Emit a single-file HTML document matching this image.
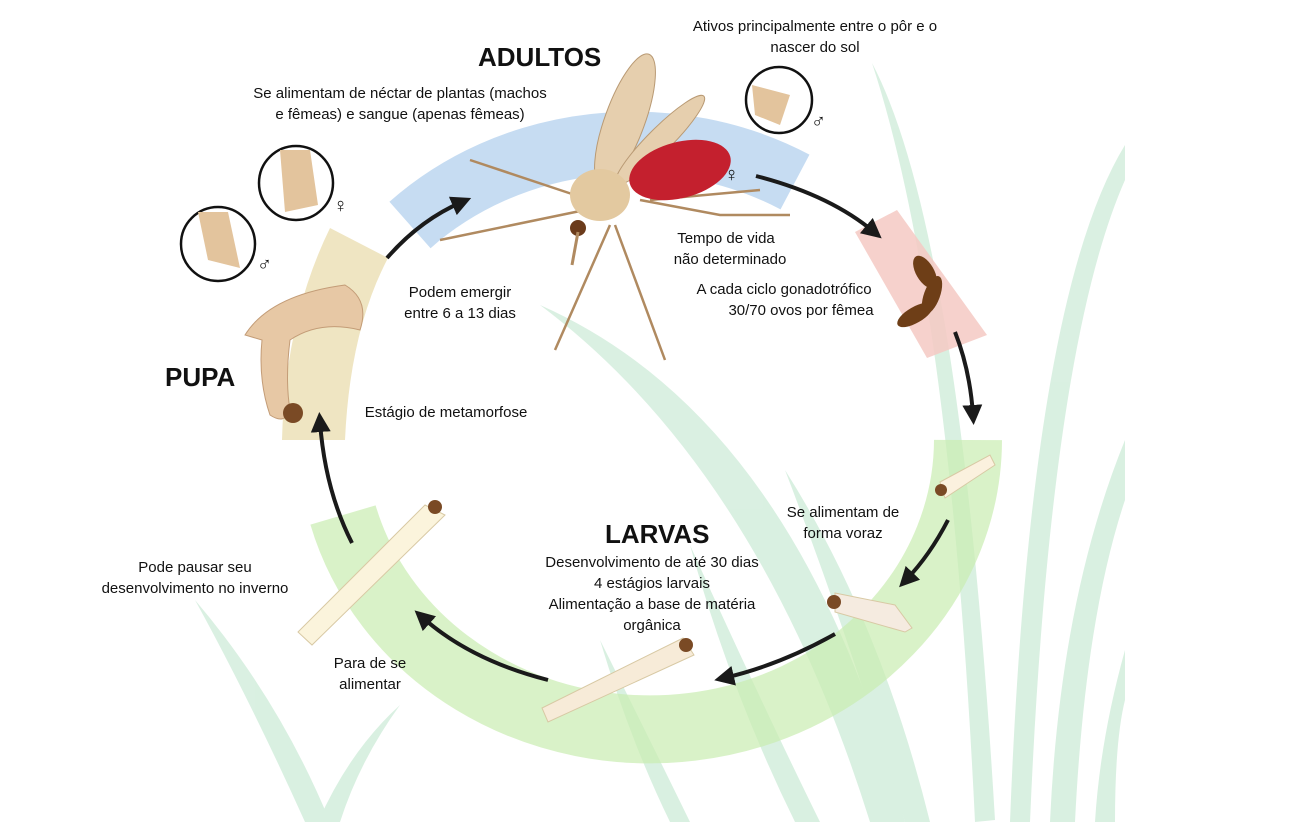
<!DOCTYPE html>
<html><head><meta charset="utf-8"><style>
html,body{margin:0;padding:0;background:#fff;}
svg{display:block}
text{font-family:"Liberation Sans",sans-serif;font-size:15px;fill:#111}
.b{font-weight:bold;font-size:26px}
</style></head><body>
<svg width="1314" height="827" viewBox="0 0 1314 827" xmlns="http://www.w3.org/2000/svg">
<defs><clipPath id="c"><rect x="0" y="0" width="1125" height="822"/></clipPath>
<marker id="a" viewBox="0 0 10 10" refX="5" refY="5" markerWidth="5" markerHeight="5" orient="auto"><path d="M0,0 L10,5 L0,10 z" fill="#1a1a1a"/></marker></defs>
<g clip-path="url(#c)" fill="#cdebd8" opacity="0.75">
<path d="M872,63 Q960,230 995,820 L975,822 Q950,300 872,63z"/>
<path d="M1125,145 Q1030,300 1010,822 L1030,822 Q1050,350 1125,180z"/>
<path d="M540,305 Q800,420 905,822 L870,822 Q760,470 540,305z"/>
<path d="M1125,440 Q1060,600 1050,822 L1075,822 Q1085,620 1125,500z"/>
<path d="M785,470 Q880,620 930,822 L905,822 Q850,640 785,470z"/>
<path d="M690,545 Q760,700 820,822 L795,822 Q730,690 690,545z"/>
<path d="M195,600 Q280,700 330,822 L305,822 Q250,700 195,600z"/>
<path d="M400,705 Q360,760 340,822 L318,822 Q350,750 400,705z"/>
<path d="M600,640 Q650,740 690,822 L670,822 Q630,740 600,640z"/>
<path d="M1125,650 Q1100,740 1095,822 L1115,822 Q1115,740 1125,700z"/>
</g>
<path d="M343,515 A318,290 0 0 0 968,440" fill="none" stroke="#c9ecb0" stroke-width="68" opacity="0.7"/>
<path d="M410,225 A318,285 0 0 1 795,182" fill="none" stroke="#bcd6f0" stroke-width="62" opacity="0.85"/>
<path d="M855,232 L897,210 L987,335 L927,358z" fill="#f5c9c3" opacity="0.85"/>
<path d="M330,228 L388,258 Q350,330 345,440 L282,440 Q285,320 330,228z" fill="#efe5c2"/>
<!-- mosquito -->
<g stroke="#b08a60" stroke-width="2.5" fill="none">
<path d="M590,200 L470,160 M585,210 L440,240 M610,225 L555,350 M615,225 L665,360 M640,200 L720,215 L790,215 M650,200 L760,190"/>
</g>
<ellipse cx="625" cy="120" rx="20" ry="70" transform="rotate(20 625 120)" fill="#e6cfae" stroke="#b99a74"/>
<ellipse cx="660" cy="140" rx="12" ry="62" transform="rotate(45 660 140)" fill="#e6cfae" stroke="#b99a74"/>
<ellipse cx="680" cy="170" rx="52" ry="28" transform="rotate(-15 680 170)" fill="#c4202e"/>
<ellipse cx="600" cy="195" rx="30" ry="26" fill="#e3c9a0"/>
<circle cx="578" cy="228" r="8" fill="#6b3b1b"/>
<path d="M578,232 L572,265" stroke="#b08a60" stroke-width="3"/>
<!-- egg -->
<ellipse cx="925" cy="272" rx="9" ry="18" transform="rotate(-30 925 272)" fill="#6e3e17"/>
<ellipse cx="932" cy="295" rx="8" ry="20" transform="rotate(20 932 295)" fill="#6e3e17"/>
<ellipse cx="915" cy="315" rx="8" ry="20" transform="rotate(60 915 315)" fill="#6e3e17"/>
<!-- pupa -->
<path d="M245,335 Q270,295 345,285 Q370,300 360,330 Q320,320 290,340 Q285,380 290,410 Q285,425 270,415 Q258,380 262,340z" fill="#e7c8a5" stroke="#c39c77"/>
<circle cx="293" cy="413" r="10" fill="#7a4a25"/>
<!-- circles -->
<circle cx="296" cy="183" r="37" fill="#fff" stroke="#111" stroke-width="2.5"/>
<path d="M280,150 L310,150 L318,205 L285,212z" fill="#e3c49d"/>
<circle cx="218" cy="244" r="37" fill="#fff" stroke="#111" stroke-width="2.5"/>
<path d="M198,212 L228,212 L240,268 L208,260z" fill="#e3c49d"/>
<circle cx="779" cy="100" r="33" fill="#fff" stroke="#111" stroke-width="2.5"/>
<path d="M752,85 L790,95 L780,125 L755,115z" fill="#e3c49d"/>
<!-- larvae -->
<path d="M425,505 L445,515 L312,645 L298,632z" fill="#fbf4dc" stroke="#d8c9a4"/>
<circle cx="435" cy="507" r="7" fill="#7a4a25"/>
<path d="M683,638 L694,655 L548,722 L542,708z" fill="#f7ebd8" stroke="#d8c9a4"/>
<circle cx="686" cy="645" r="7" fill="#7a4a25"/>
<path d="M835,593 L895,605 L912,628 L905,632 L835,612z" fill="#f5ebe0" stroke="#d8c9a4"/>
<circle cx="834" cy="602" r="7" fill="#7a4a25"/>
<path d="M940,482 L990,455 L995,465 L945,498z" fill="#fbf1de" stroke="#d8c9a4"/>
<circle cx="941" cy="490" r="6" fill="#7a4a25"/>
<!-- arrows -->
<g stroke="#1a1a1a" stroke-width="4" fill="none" marker-end="url(#a)">
<path d="M387,258 Q420,220 462,202"/>
<path d="M756,176 Q830,195 874,232"/>
<path d="M955,332 Q970,370 973,415"/>
<path d="M948,520 Q930,555 906,580"/>
<path d="M835,634 Q780,665 724,678"/>
<path d="M548,680 Q470,660 422,617"/>
<path d="M352,543 Q325,490 320,422"/>
</g>
<text class="b" x="478" y="66">ADULTOS</text>
<text class="b" x="165" y="386">PUPA</text>
<text class="b" x="605" y="543">LARVAS</text>
<g text-anchor="middle">
<text x="400" y="98">Se alimentam de néctar de plantas (machos</text>
<text x="400" y="119">e fêmeas) e sangue (apenas fêmeas)</text>
<text x="815" y="31">Ativos principalmente entre o pôr e o</text>
<text x="815" y="52">nascer do sol</text>
<text x="726" y="243">Tempo de vida</text>
<text x="730" y="264">não determinado</text>
<text x="784" y="294">A cada ciclo gonadotrófico</text>
<text x="801" y="315">30/70 ovos por fêmea</text>
<text x="460" y="297">Podem emergir</text>
<text x="460" y="318">entre 6 a 13 dias</text>
<text x="446" y="417">Estágio de metamorfose</text>
<text x="843" y="517">Se alimentam de</text>
<text x="843" y="538">forma voraz</text>
<text x="652" y="567">Desenvolvimento de até 30 dias</text>
<text x="652" y="588">4 estágios larvais</text>
<text x="652" y="609">Alimentação a base de matéria</text>
<text x="652" y="630">orgânica</text>
<text x="195" y="572">Pode pausar seu</text>
<text x="195" y="593">desenvolvimento no inverno</text>
<text x="370" y="668">Para de se</text>
<text x="370" y="689">alimentar</text>
</g>
<text x="333" y="212" style="font-size:20px">♀</text>
<text x="257" y="271" style="font-size:20px">♂</text>
<text x="811" y="128" style="font-size:20px">♂</text>
<text x="724" y="181" style="font-size:20px">♀</text>
</svg>
</body></html>
